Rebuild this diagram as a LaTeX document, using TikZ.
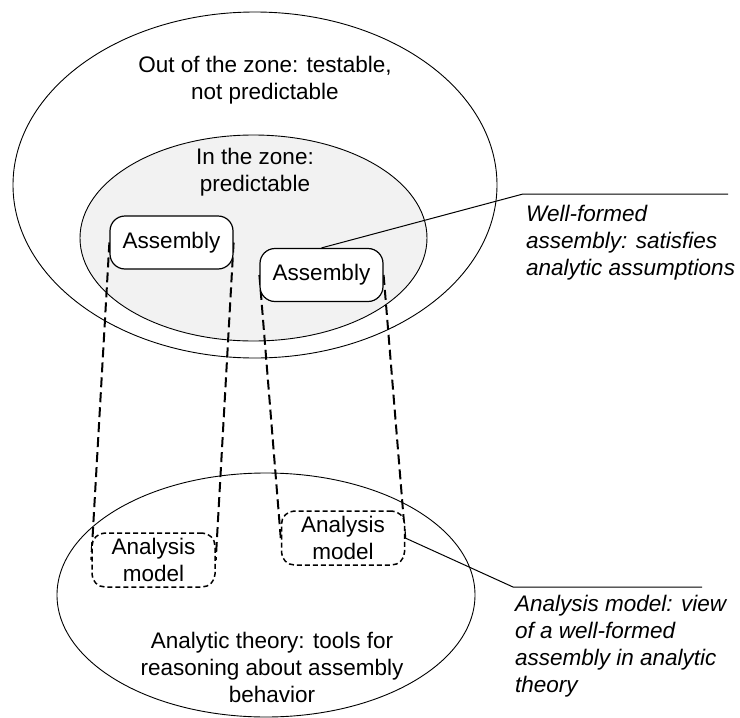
\documentclass[tikz,border=0pt]{standalone}
\usepackage{fontspec}
\setmainfont{Liberation Sans}
\usetikzlibrary{shapes.geometric}
\definecolor{innergray}{HTML}{F2F2F2}
\begin{document}
\begin{tikzpicture}[x=1pt,y=-1pt,
  every node/.style={font=\fontsize{22.5}{27}\selectfont},
  zone/.style={draw, ellipse, line width=0.9pt, inner sep=0pt},
  lbl/.style={align=center, inner sep=0pt},
  asm/.style={draw, rounded corners=15pt, line width=1.2pt, minimum width=123pt, minimum height=53pt, inner sep=0pt, fill=white},
  am/.style={draw, dash pattern=on 5pt off 3pt, rounded corners=13pt, line width=1.5pt, minimum width=123pt, minimum height=54pt, inner sep=0pt, align=center, fill=white},
  link/.style={line width=2pt, dash pattern=on 10pt off 5pt},
  callout/.style={line width=1pt},
  note/.style={align=left, font=\fontsize{22.5}{27}\selectfont\itshape, anchor=west, inner sep=0pt}
]
\useasboundingbox (0,0) rectangle (740,718);
% zones
\node[zone, minimum width=484pt, minimum height=346pt] (out) at (255,185) {};
\node[zone, fill=innergray, minimum width=347pt, minimum height=206pt] (in) at (253.5,238) {};
\node[zone, minimum width=418pt, minimum height=244pt] (th) at (266,595) {};
% zone labels
\node[lbl] (outlbl) at (265,80) {Out of the zone: testable,\\not predictable};
\node[lbl] (inlbl) at (255,172) {In the zone:\\predictable};
\node[lbl] (thlbl) at (272,667) {Analytic theory: tools for\\reasoning about assembly\\behavior};
% box positions
\coordinate (pa1) at (171.5,242.5);
\coordinate (pa2) at (321.5,275);
\coordinate (pm1) at (153.5,560);
\coordinate (pm2) at (343,538);
\path (pa1) node[asm, draw=none, fill=none] (a1) {\phantom{Assembly}}
      (pa2) node[asm, draw=none, fill=none] (a2) {\phantom{Assembly}}
      (pm1) node[am, draw=none, fill=none] (m1) {\phantom{Analysis}\\\phantom{model}}
      (pm2) node[am, draw=none, fill=none] (m2) {\phantom{Analysis}\\\phantom{model}};
% links
\draw[link] (a1.west) -- (m1.west);
\draw[link] (a1.east) -- (m1.east);
\draw[link] (a2.west) -- (m2.west);
\draw[link] (a2.east) -- (m2.east);
% boxes
\node[asm] (A1) at (pa1) {Assembly};
\node[asm] (A2) at (pa2) {Assembly};
\node[am] (M1) at (pm1) {Analysis\\model};
\node[am] (M2) at (pm2) {Analysis\\model};
% callouts
\coordinate (c1) at (523,194);
\coordinate (c1e) at (728,194);
\draw[callout] (A2.north) -- (c1) -- (c1e);
\node[note] (n1) at (526,243) {Well-formed\\assembly: satisfies\\analytic assumptions};
\coordinate (c2) at (513,587);
\coordinate (c2e) at (702,587);
\draw[callout] (M2.east) -- (c2) -- (c2e);
\node[note] (n2) at (515,646) {Analysis model: view\\of a well-formed\\assembly in analytic\\theory};
\end{tikzpicture}
\end{document}
